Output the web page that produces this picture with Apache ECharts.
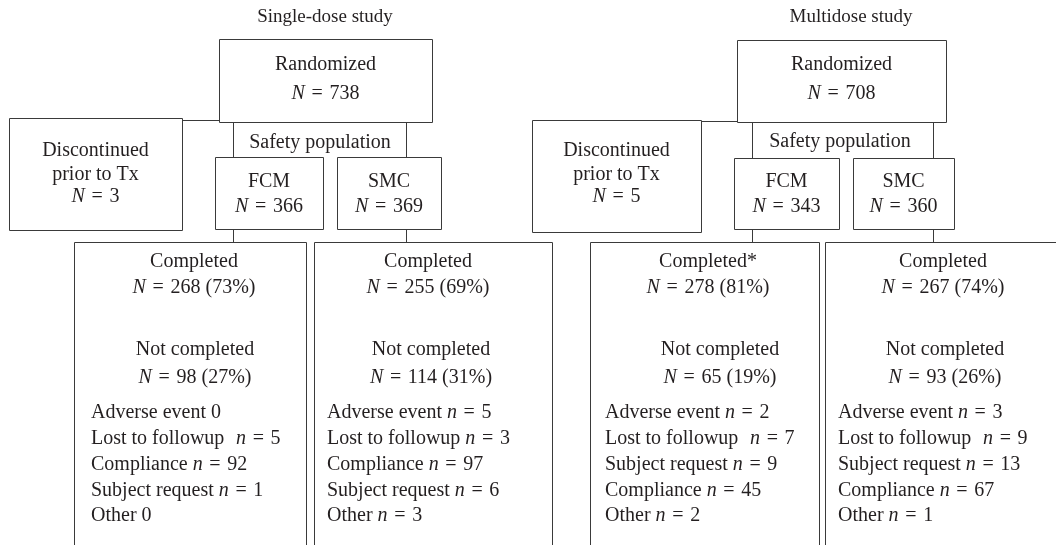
<!DOCTYPE html>
<html lang="en">
<head>
    <meta charset="UTF-8">
    <title>Patient disposition</title>
    <style>
        html, body { margin: 0; padding: 0; background: #fff; }
        #main { width: 1056px; height: 545px; }
    </style>
</head>
<body>
    <div id="main"></div>
    <script src="https://cdn.jsdelivr.net/npm/echarts@6/dist/echarts.min.js"></script>
    <script>
        // data
        var studies = ['Single-dose study', 'Multidose study'];
        var randomizedN = [738, 708];
        var discontinuedN = [3, 5];
        var armNames = ['FCM', 'SMC'];
        var armN = [[366, 369], [343, 360]];
        var completedMark = [['', ''], ['*', '']];
        var completedN = [[268, 255], [278, 267]];
        var completedPct = [[73, 69], [81, 74]];
        var notCompletedN = [[98, 114], [65, 93]];
        var notCompletedPct = [[27, 31], [19, 26]];
        var reasonsSingle = ['Adverse event', 'Lost to followup', 'Compliance', 'Subject request', 'Other'];
        var reasonsMulti = ['Adverse event', 'Lost to followup', 'Subject request', 'Compliance', 'Other'];
        var reasonLabels = [reasonsSingle, reasonsMulti];
        var reasonCounts = [
            [[0, 5, 92, 1, 0], [5, 3, 97, 6, 3]],
            [[2, 7, 9, 45, 2], [3, 9, 13, 67, 1]]
        ];

        // layout of the two diagrams (pixels)
        var layout = [{
            title: [325, 17],
            rand: [219, 39, 432, 122],
            disc: [9, 118, 182, 230], link: 120,
            safety: [233, 406, 320, 143],
            arms: [[215, 157, 323, 229], [337, 157, 441, 229]],
            lower: [[74, 242, 306, 560], [314, 242, 552, 560]],
            doneX: [194, 428], notX: [195, 431], listX: [91, 327]
        }, {
            title: [851, 17],
            rand: [737, 40, 946, 122],
            disc: [532, 120, 701, 232], link: 121,
            safety: [752, 933, 840, 142],
            arms: [[734, 158, 839, 229], [853, 158, 954, 229]],
            lower: [[590, 242, 819, 560], [825, 242, 1070, 560]],
            doneX: [708, 943], notX: [720, 945], listX: [605, 838]
        }];

        var FONT = 'Liberation Serif';
        var INK = '#231f20';
        var EDGE = '#3a3a3a';
        var EQ = '\u2004=\u2004';

        var boxes = [], lines = [], texts = [];

        function px(v) { return Math.round(v) + 0.5; }
        function rect(b) {
            boxes.push({
                type: 'rect', silent: true,
                shape: { x: px(b[0]), y: px(b[1]), width: b[2] - b[0], height: b[3] - b[1] },
                style: { fill: '#fff', stroke: EDGE, lineWidth: 1 }
            });
        }
        function line(x1, y1, x2, y2) {
            lines.push({
                type: 'line', silent: true,
                shape: { x1: px(x1), y1: px(y1), x2: px(x2), y2: px(y2) },
                style: { stroke: EDGE, lineWidth: 1 }
            });
        }
        function txt(x, y, s, align, size) {
            var fs = size || 20;
            texts.push({
                type: 'text', silent: true, z: 10,
                style: {
                    x: x, y: y, text: s,
                    align: align || 'center', verticalAlign: 'middle',
                    fontFamily: FONT, fontSize: fs, fill: INK,
                    rich: { i: { fontStyle: 'italic', fontFamily: FONT, fontSize: fs, fill: INK } }
                }
            });
        }
        function nEq(v) { return '{i|N}' + EQ + v; }
        function reasonLine(label, v) { return v === 0 ? label + ' 0' : label + ' {i|n}' + EQ + v; }

        studies.forEach(function (name, s) {
            var L = layout[s];
            txt(L.title[0], L.title[1], name, 'center', 19);

            // randomized
            rect(L.rand);
            var rc = (L.rand[0] + L.rand[2]) / 2;
            txt(rc, 65, 'Randomized');
            txt(rc, 94, nEq(randomizedN[s]));

            // discontinued
            rect(L.disc);
            var dc = (L.disc[0] + L.disc[2]) / 2;
            txt(dc, 151, 'Discontinued');
            txt(dc, 175, 'prior to Tx');
            txt(dc, 197, nEq(discontinuedN[s]));
            line(L.disc[2], L.link, L.rand[0], L.link);

            // safety population
            line(L.safety[0], L.rand[3], L.safety[0], L.arms[0][1]);
            line(L.safety[1], L.rand[3], L.safety[1], L.arms[1][1]);
            txt(L.safety[2], L.safety[3], 'Safety population');

            armNames.forEach(function (arm, a) {
                var b = L.arms[a];
                rect(b);
                var ac = (b[0] + b[2]) / 2;
                txt(ac, 182, arm);
                txt(ac, 207, nEq(armN[s][a]));
                line(L.safety[a], b[3], L.safety[a], L.lower[a][1]);

                // outcome box
                rect(L.lower[a]);
                txt(L.doneX[a], 262, 'Completed' + completedMark[s][a]);
                txt(L.doneX[a], 288, nEq(completedN[s][a] + ' (' + completedPct[s][a] + '%)'));
                txt(L.notX[a], 350, 'Not completed');
                txt(L.notX[a], 378, nEq(notCompletedN[s][a] + ' (' + notCompletedPct[s][a] + '%)'));
                reasonLabels[s].forEach(function (lab, k) {
                    var wide = lab === 'Lost to followup' && !(s === 0 && a === 1);
                    txt(L.listX[a], 413 + k * 25.8, reasonLine(lab + (wide ? '\u2004' : ''), reasonCounts[s][a][k]), 'left');
                });
            });
        });

        var myChart = echarts.init(document.getElementById('main'));
        myChart.setOption({
            backgroundColor: '#ffffff',
            animation: false,
            graphic: { elements: boxes.concat(lines, texts) }
        });
    </script>
</body>
</html>
